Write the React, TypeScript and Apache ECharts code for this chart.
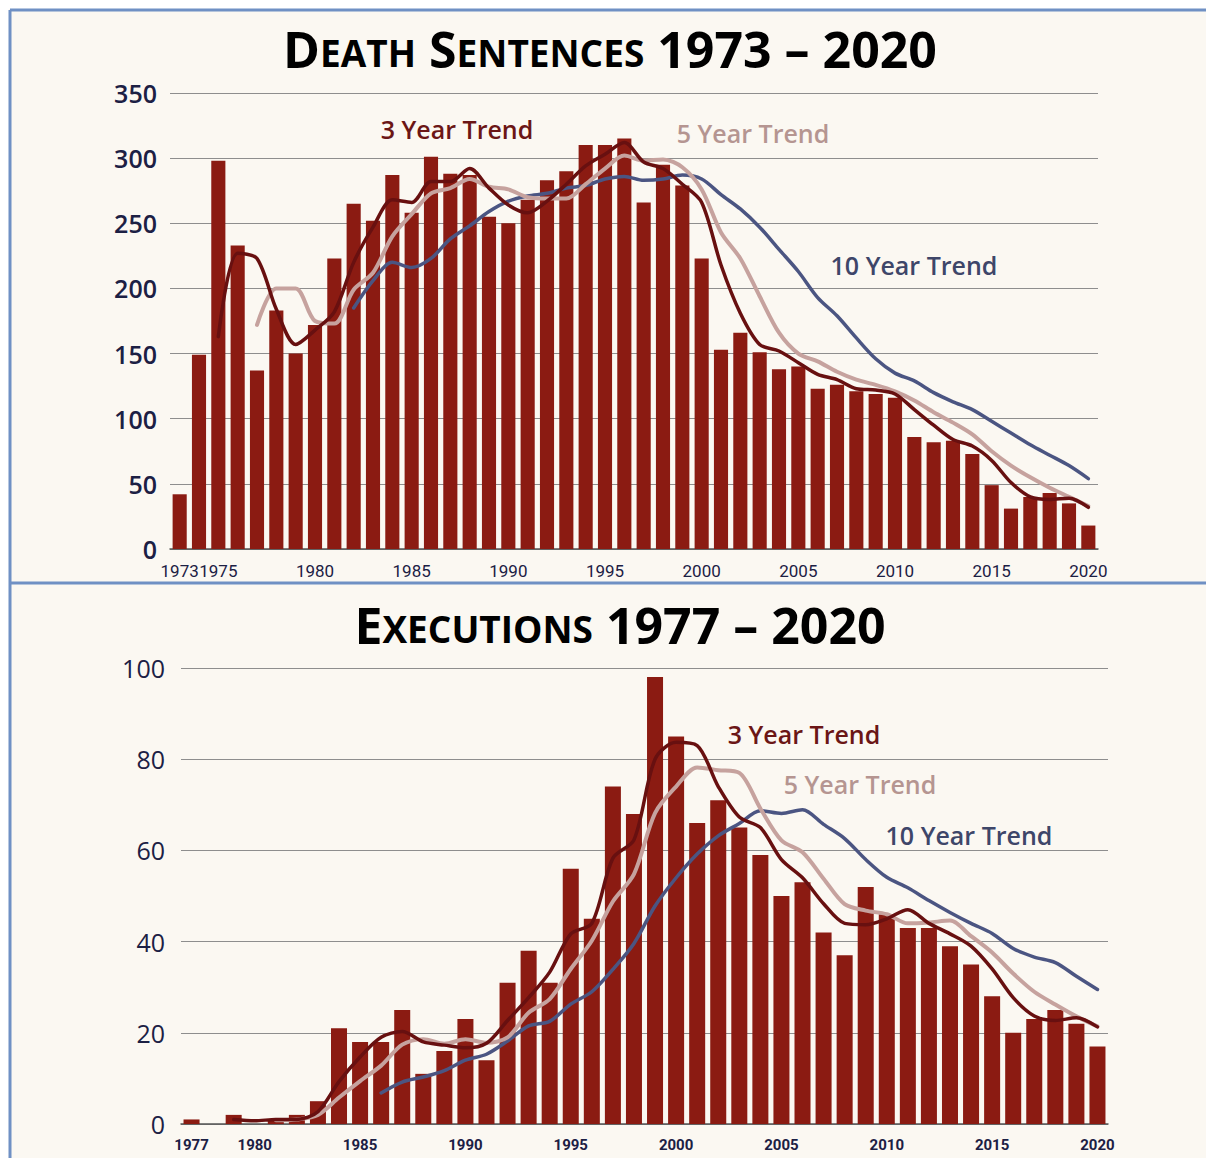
import React, { useEffect, useRef } from "react";
import * as echarts from "echarts";

// ---------- Data ----------
const sentenceYears: string[] = Array.from({ length: 48 }, (_, i) => String(1973 + i));
const sentences = [42,149,298,233,137,183,150,172,223,265,252,287,258,301,288,287,255,250,268,283,290,310,310,315,266,295,279,223,153,166,151,138,140,123,126,121,119,116,86,82,83,73,49,31,40,43,35,18];
// trailing trends, first value year noted
const sentTrend3Start = 1975;
const sentTrend3 = [163,227,223,184,157,168,182,220,247,268,266,282,282,292,277,264,258,267,280,294,303,312,297,292,280,266,218,181,157,152,143,134,130,123,122,119,107,95,84,79,68,51,40,38,39,32];
const sentTrend5Start = 1977;
const sentTrend5 = [172,200,200,175,173,199,212,240,257,273,277,284,278,276,270,269,269,280,292,302,298,299,293,276,243,223,194,166,150,144,136,130,126,121,114,105,97,88,75,64,55,47,40,33];
const sentTrend10Start = 1982;
const sentTrend10 = [185,206,220,216,223,238,248,259,267,271,273,277,279,284,286,283,284,287,284,272,261,247,230,213,193,179,162,146,135,129,120,113,107,98,89,80,72,64,54];

const execYears: string[] = Array.from({ length: 44 }, (_, i) => String(1977 + i));
const executions = [1,0,2,0,1,2,5,21,18,18,25,11,16,23,14,31,38,31,56,45,74,68,98,85,66,71,65,59,50,53,42,37,52,46,43,43,39,35,28,20,23,25,22,17];
const execTrend3Start = 1979;
const execTrend3 = [1,0.7,1,1,2.7,9.3,14.7,19,20.3,18,17.3,16.7,17.7,22.7,27.7,33.3,41.7,44,58.3,62.3,80,83.7,83,74,67.3,65,58,54,48.3,44,43.7,45,47,44,41.7,39,34,27.7,23.7,22.7,23.3,21.3];
const execTrend5Start = 1981;
const execTrend5 = [0.8,1,2,5.8,9.4,12.8,17.4,18.6,17.6,18.6,17.8,19,24.4,27.4,34,40.2,48.8,54.8,68.2,74,78.2,77.6,77,69.2,62.2,59.6,53.8,48.2,46.8,46,44,44.2,44.6,41.2,37.6,33,29,26.2,23.6,21.4];
const execTrend10Start = 1986;
const execTrend10 = [6.8,9.2,10.3,11.7,14,15.3,18.2,21.5,22.5,26.3,29,33.9,39.6,47.8,54,59.2,63.2,65.9,68.7,68.1,68.9,65.7,62.6,58,54.1,51.8,49,46.4,44,41.8,38.5,36.6,35.4,32.4,29.5];

const sentenceTicks = [0, 50, 100, 150, 200, 250, 300, 350];
const executionTicks = [0, 20, 40, 60, 80, 100];

// ---------- Styles ----------
const BAR = "#8b1b12";
const C3 = "#681010";
const C5 = "#c6a29e";
const C10 = "#4b5582";
const NAVY = "#1c2044";
const BORDER = "#6f90c4";
const GRIDLINE = "#8e8e8e";

function pad(start: number, firstYear: number, arr: number[]) {
  return [...Array(start - firstYear).fill(null), ...arr];
}

export default function App() {
  const ref = useRef<HTMLDivElement>(null);
  useEffect(() => {
    if (!ref.current) return;
    const chart = echarts.init(ref.current, null, { renderer: "svg" });

    const lineSeries = (name: string, data: any[], color: string, width: number, idx: number, z: number) => ({
      name,
      type: "line",
      xAxisIndex: idx,
      yAxisIndex: idx,
      data,
      symbol: "none",
      smooth: 0.3,
      z,
      lineStyle: { color, width, cap: "round", join: "round" },
    });

    const titleRich = {
      b: { fontFamily: "Open Sans", fontWeight: 700, fontSize: 50, color: NAVY, lineHeight: 56, verticalAlign: "bottom" },
      s: { fontFamily: "Open Sans", fontWeight: 700, fontSize: 37, color: NAVY, lineHeight: 42, verticalAlign: "bottom", padding: [0, 0, 3, 0] },
    };

    const trendLabel = (text: string, x: number, y: number, color: string) => ({
      type: "text",
      x,
      y,
      z: 100,
      style: {
        text,
        fill: color,
        font: "600 25px 'Open Sans'",
        align: "center",
        verticalAlign: "middle",
      },
    });

    const option: any = {
      animation: false,
      backgroundColor: "#fbf8f2",
      grid: [
        { left: 170, width: 928, top: 93, height: 456 },
        { left: 181, width: 927, top: 668, height: 456 },
      ],
      xAxis: [
        {
          type: "category",
          gridIndex: 0,
          data: sentenceYears,
          axisTick: { show: false },
          axisLine: { lineStyle: { color: "#555", width: 1.5 } },
          axisLabel: {
            interval: (i: number, v: string) => v === "1973" || Number(v) % 5 === 0,
            fontFamily: "Roboto",
            fontSize: 17,
            color: NAVY,
            margin: 13,
          },
        },
        {
          type: "category",
          gridIndex: 1,
          data: execYears,
          axisTick: { show: false },
          axisLine: { lineStyle: { color: "#555", width: 1.5 } },
          axisLabel: {
            interval: (i: number, v: string) => v === "1977" || Number(v) % 5 === 0,
            fontFamily: "Roboto",
            fontWeight: 700,
            fontSize: 15,
            color: NAVY,
            margin: 13,
          },
        },
      ],
      yAxis: [
        {
          type: "value",
          gridIndex: 0,
          min: sentenceTicks[0],
          max: sentenceTicks[sentenceTicks.length - 1],
          interval: 50,
          axisLine: { show: false },
          axisTick: { show: false },
          splitLine: { lineStyle: { color: GRIDLINE, width: 1 } },
          axisLabel: { fontFamily: "Open Sans", fontWeight: 600, fontSize: 25, color: NAVY, margin: 13 },
        },
        {
          type: "value",
          gridIndex: 1,
          min: executionTicks[0],
          max: executionTicks[executionTicks.length - 1],
          interval: 20,
          axisLine: { show: false },
          axisTick: { show: false },
          splitLine: { lineStyle: { color: GRIDLINE, width: 1 } },
          axisLabel: { fontFamily: "Open Sans", fontWeight: 400, fontSize: 25, color: NAVY, margin: 16 },
        },
      ],
      series: [
        { name: "Death Sentences", type: "bar", xAxisIndex: 0, yAxisIndex: 0, data: sentences, barCategoryGap: "27%", itemStyle: { color: BAR }, z: 2 },
        lineSeries("10 Year Trend", pad(sentTrend10Start, 1973, sentTrend10), C10, 3.5, 0, 3),
        lineSeries("5 Year Trend", pad(sentTrend5Start, 1973, sentTrend5), C5, 4, 0, 4),
        lineSeries("3 Year Trend", pad(sentTrend3Start, 1973, sentTrend3), C3, 3.5, 0, 5),
        { name: "Executions", type: "bar", xAxisIndex: 1, yAxisIndex: 1, data: executions, barCategoryGap: "24%", itemStyle: { color: BAR }, z: 2 },
        lineSeries("10 Year Trend ", pad(execTrend10Start, 1977, execTrend10), C10, 3.5, 1, 3),
        lineSeries("5 Year Trend ", pad(execTrend5Start, 1977, execTrend5), C5, 4, 1, 4),
        lineSeries("3 Year Trend ", pad(execTrend3Start, 1977, execTrend3), C3, 3.5, 1, 5),
      ],
      graphic: [
        { type: "rect", shape: { x: 0, y: 0, width: 1206, height: 9 }, style: { fill: "#ffffff" }, silent: true },
        { type: "rect", shape: { x: 0, y: 0, width: 9, height: 1158 }, style: { fill: "#ffffff" }, silent: true },
        { type: "line", shape: { x1: 10, y1: 10, x2: 1206, y2: 10 }, style: { stroke: BORDER, lineWidth: 3 }, silent: true },
        { type: "line", shape: { x1: 10, y1: 10, x2: 10, y2: 1158 }, style: { stroke: BORDER, lineWidth: 3 }, silent: true },
        { type: "line", shape: { x1: 10, y1: 583, x2: 1206, y2: 583 }, style: { stroke: BORDER, lineWidth: 3 }, silent: true },
        {
          type: "text",
          x: 610,
          y: 74,
          style: {
            text: "{b|D}{s|EATH}{b| S}{s|ENTENCES}{b| 1973 – 2020}",
            rich: titleRich,
            align: "center",
            verticalAlign: "bottom",
          },
        },
        {
          type: "text",
          x: 620,
          y: 650,
          style: {
            text: "{b|E}{s|XECUTIONS}{b| 1977 – 2020}",
            rich: titleRich,
            align: "center",
            verticalAlign: "bottom",
          },
        },
        trendLabel("3 Year Trend", 457, 129, "#6b1616"),
        trendLabel("5 Year Trend", 753, 133, "#b59591"),
        trendLabel("10 Year Trend", 914, 265, "#3e4669"),
        trendLabel("3 Year Trend", 804, 734, "#6b1616"),
        trendLabel("5 Year Trend", 860, 784, "#b59591"),
        trendLabel("10 Year Trend", 969, 835, "#3e4669"),
      ],
    };

    chart.setOption(option);
    return () => chart.dispose();
  }, []);

  return (
    <div
      ref={ref}
      style={{ position: "absolute", left: 0, top: 0, width: 1206, height: 1158 }}
    />
  );
}
